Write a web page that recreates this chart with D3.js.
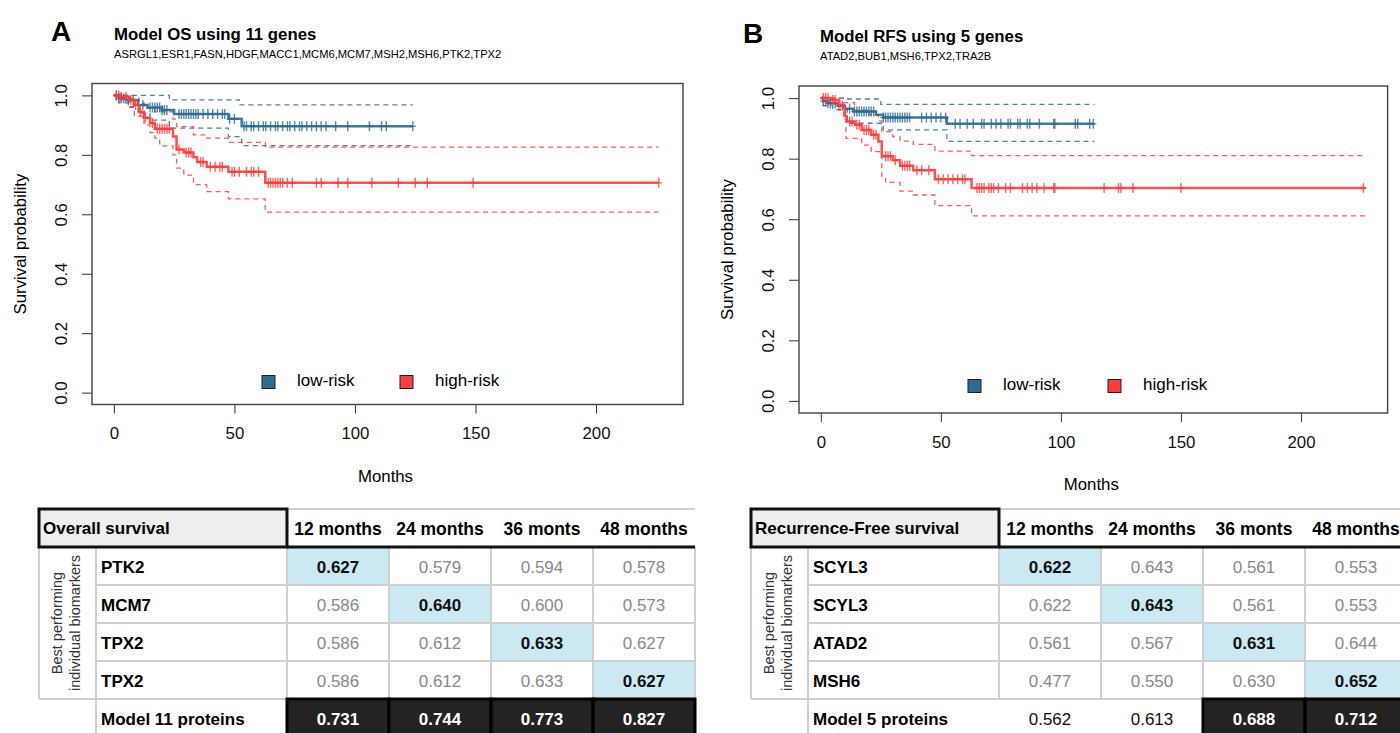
<!DOCTYPE html>
<html><head><meta charset="utf-8">
<script src="https://cdn.jsdelivr.net/npm/d3@7"></script>
<style>body{margin:0;background:#fff;} svg{display:block;font-family:"Liberation Sans",Arial,Helvetica,sans-serif;}</style>
</head><body>
<svg id="chart" width="1400" height="733"></svg>
<script>
// ---------------- DATA ----------------
const xTicks = [0, 50, 100, 150, 200];
const yTicks = [0, 0.2, 0.4, 0.6, 0.8, 1.0];
const legendLabels = ["low-risk", "high-risk"];
const xLabel = "Months";
const yLabel = "Survival probability";

// Panel A: overall survival
const osLetter = "A";
const osTitle = "Model OS using 11 genes";
const osGenesList = "ASRGL1,ESR1,FASN,HDGF,MACC1,MCM6,MCM7,MSH2,MSH6,PTK2,TPX2";
const osLowT = [0, 2, 5, 10, 14, 20, 25, 47.5, 53];
const osLowS = [1.0, 0.99, 0.984, 0.968, 0.959, 0.951, 0.937, 0.921, 0.896];
const osLowEnd = 124;
const osLowUpT = [0, 23, 52];
const osLowUpS = [1.0, 0.985, 0.968];
const osLowLoT = [0, 2, 6, 10, 15, 23, 47.5, 53];
const osLowLoS = [1.0, 0.975, 0.962, 0.94, 0.917, 0.89, 0.861, 0.831];
const osLowCens = [1, 2, 3, 4, 6, 8, 12, 15, 16, 17, 18, 19, 20, 21, 22, 27, 28, 29, 30, 31, 32, 33, 34, 35, 37, 39, 41, 43, 45, 46, 48, 50, 54, 55, 57, 58, 60, 62, 63, 65, 67, 68, 70, 72, 73, 75, 77, 78, 80, 82, 84, 86, 88, 92, 97, 106, 111, 113, 124];

const osHighT = [0, 3, 6.5, 8.5, 10.5, 12.5, 15, 17, 24.5, 26, 29, 33, 34.5, 38.5, 47.5, 62.8];
const osHighS = [1.0, 0.995, 0.985, 0.968, 0.945, 0.925, 0.907, 0.888, 0.862, 0.818, 0.808, 0.792, 0.776, 0.76, 0.743, 0.706];
const osHighEnd = 226;
const osHighUpT = [0, 6.5, 10.5, 12.5, 17, 24.5, 26, 33, 38.5, 47.5, 62.8];
const osHighUpS = [1.0, 0.99, 0.975, 0.957, 0.945, 0.92, 0.895, 0.867, 0.856, 0.842, 0.826];
const osHighLoT = [0, 3, 6.5, 8.5, 12.5, 15, 17, 19, 24.5, 26, 29, 33, 38.5, 47.5, 62.8];
const osHighLoS = [1.0, 0.985, 0.96, 0.93, 0.9, 0.875, 0.856, 0.83, 0.8, 0.755, 0.732, 0.70, 0.676, 0.652, 0.607];
const osHighCens = [1, 2, 3, 5, 7, 9, 11, 13, 16, 18, 19, 20, 21, 22, 23, 27, 30, 31, 32, 36, 37, 40, 42, 44, 45, 49, 50, 52, 55, 57, 58, 60, 64, 65, 66, 67, 68, 69, 70, 72, 74, 84, 86, 93, 97, 107, 118, 125, 130, 149, 226];

// Panel B: recurrence-free survival
const rfsLetter = "B";
const rfsTitle = "Model RFS using 5 genes";
const rfsGenesList = "ATAD2,BUB1,MSH6,TPX2,TRA2B";
const rfsLowT = [0, 1, 3, 7, 10, 13.5, 23, 26, 52.5];
const rfsLowS = [1.0, 0.99, 0.983, 0.975, 0.965, 0.956, 0.945, 0.936, 0.915];
const rfsLowEnd = 114;
const rfsLowUpT = [0, 10, 25];
const rfsLowUpS = [1.0, 0.997, 0.979];
const rfsLowLoT = [0, 1, 5, 11, 26, 52.5];
const rfsLowLoS = [1.0, 0.975, 0.962, 0.917, 0.895, 0.857];
const rfsLowCens = [1, 2, 3, 4, 6, 9, 12, 14, 15, 16, 17, 18, 19, 20, 21, 22, 26, 27, 28, 29, 30, 31, 32, 33, 34, 35, 36, 37, 42, 44, 46, 48, 50, 52, 56, 58, 61, 63.5, 67, 68, 71, 73, 75, 78, 79, 82, 83, 86, 87, 91, 97, 97.5, 106, 107, 112, 113.5];

const rfsHighT = [0, 4, 7.4, 9.5, 10.1, 10.8, 14.3, 17, 21, 24, 25.4, 30, 33, 38.5, 47.5, 62.8];
const rfsHighS = [1.0, 0.994, 0.978, 0.967, 0.94, 0.923, 0.912, 0.895, 0.879, 0.857, 0.808, 0.795, 0.777, 0.762, 0.732, 0.703];
const rfsHighEnd = 227;
const rfsHighUpT = [0, 9.5, 14, 20, 24, 25.4, 30, 33, 38.5, 47.5, 62.8];
const rfsHighUpS = [1.0, 0.985, 0.96, 0.945, 0.925, 0.889, 0.872, 0.858, 0.847, 0.825, 0.81];
const rfsHighLoT = [0, 4, 7.4, 9.5, 10.5, 17, 21, 25.4, 27, 33, 38.5, 47.5, 62.8];
const rfsHighLoS = [1.0, 0.985, 0.96, 0.93, 0.867, 0.845, 0.823, 0.735, 0.722, 0.693, 0.68, 0.645, 0.611];
const rfsHighCens = [1, 2, 3, 5, 6, 8, 12, 13, 15, 16, 18, 19, 20, 22, 23, 27, 28, 29, 31, 34, 35, 36, 37, 40, 42, 45, 49, 51, 53, 55, 57, 59, 60, 65, 66, 67, 68, 70, 71, 72, 74, 77, 79, 84, 86, 88, 90, 93, 97, 97.5, 118, 124, 125, 130, 150, 226];

// Tables
const tableHeaders = ["12 months", "24 months", "36 monts", "48 months"];
const sideLabel = ["Best performing", "individual biomarkers"];
const osTableLabel = "Overall survival";
const osGenes = ["PTK2", "MCM7", "TPX2", "TPX2"];
const osValues = [
  [0.627, 0.579, 0.594, 0.578],
  [0.586, 0.640, 0.600, 0.573],
  [0.586, 0.612, 0.633, 0.627],
  [0.586, 0.612, 0.633, 0.627]
];
const osModelLabel = "Model 11 proteins";
const osModel = [0.731, 0.744, 0.773, 0.827];

const rfsTableLabel = "Recurrence-Free survival";
const rfsGenes = ["SCYL3", "SCYL3", "ATAD2", "MSH6"];
const rfsValues = [
  [0.622, 0.643, 0.561, 0.553],
  [0.622, 0.643, 0.561, 0.553],
  [0.561, 0.567, 0.631, 0.644],
  [0.477, 0.550, 0.630, 0.652]
];
const rfsModelLabel = "Model 5 proteins";
const rfsModel = [0.562, 0.613, 0.688, 0.712];

// ---------------- DRAWING ----------------
const BLUE = "#2b6d90", RED = "#ff3d3d";
const svg = d3.select("#chart");

function stepVal(T, S, t) {
  let v = S[0];
  for (let i = 0; i < T.length; i++) if (T[i] <= t) v = S[i];
  return v;
}

function drawPanel(cfg) {
  const g = svg.append("g");
  const x = d3.scaleLinear().domain([-9.08, 236.08]).range([cfg.left, cfg.right]);
  const y = d3.scaleLinear().domain([-0.04, 1.04]).range([cfg.bottom, cfg.top]);

  g.append("text").attr("x", cfg.letterX).attr("y", cfg.top - 43).attr("font-size", 28).attr("font-weight", "bold").text(cfg.letter);
  g.append("text").attr("x", cfg.titleX).attr("y", cfg.top - 44).attr("font-size", 16.8).attr("font-weight", "bold").text(cfg.title);
  g.append("text").attr("x", cfg.titleX).attr("y", cfg.top - 26).attr("font-size", 11.2).text(cfg.genes);

  // axes
  const xa = g.append("g").attr("transform", `translate(0,${cfg.bottom})`)
    .call(d3.axisBottom(x).tickValues(xTicks).tickSize(9).tickPadding(14).tickFormat(d3.format("d")));
  const ya = g.append("g").attr("transform", `translate(${cfg.left},0)`)
    .call(d3.axisLeft(y).tickValues(yTicks).tickSize(10).tickFormat(d3.format(".1f")));
  [xa, ya].forEach(a => {
    a.select(".domain").remove();
    a.selectAll("line").attr("stroke", "#333");
    a.selectAll("text").attr("font-size", 16.8).attr("fill", "#111").attr("font-family", "Liberation Sans, Arial, sans-serif");
  });
  ya.selectAll(".tick text").attr("text-anchor", "middle").attr("x", 0).attr("dy", 0)
    .attr("transform", "translate(-29,0) rotate(-90)").attr("dominant-baseline", "middle");

  g.append("text").attr("x", (cfg.left + cfg.right) / 2 - 2).attr("y", cfg.bottom + 77).attr("text-anchor", "middle").attr("font-size", 16.8).text(xLabel);
  g.append("text").attr("transform", `translate(${cfg.left - 66},${(cfg.top + cfg.bottom) / 2}) rotate(-90)`).attr("text-anchor", "middle").attr("font-size", 16.8).text(yLabel);

  const line = d3.line().x(d => x(d[0])).y(d => y(d[1])).curve(d3.curveStepAfter);
  function curvePts(T, S, end) { const p = T.map((t, i) => [t, S[i]]); p.push([end, S[S.length - 1]]); return p; }

  const clip = g.append("g");
  cfg.series.forEach(s => {
    clip.append("path").attr("d", line(curvePts(s.upT, s.upS, s.end))).attr("fill", "none").attr("stroke", s.color).attr("stroke-width", 1.3).attr("stroke-dasharray", "5,4").attr("opacity", 0.85);
    clip.append("path").attr("d", line(curvePts(s.loT, s.loS, s.end))).attr("fill", "none").attr("stroke", s.color).attr("stroke-width", 1.3).attr("stroke-dasharray", "5,4").attr("opacity", 0.85);
  });
  cfg.series.forEach(s => {
    clip.append("path").attr("d", line(curvePts(s.T, s.S, s.end))).attr("fill", "none").attr("stroke", s.color).attr("stroke-width", 2.5).attr("opacity", 0.9);
    clip.selectAll(null).data(s.cens).enter().append("path")
      .attr("d", t => { const px = x(t), py = y(stepVal(s.T, s.S, t)); return `M${px},${py - 5}V${py + 5}M${px - 3},${py}H${px + 3}`; })
      .attr("stroke", s.color).attr("stroke-width", 1.4).attr("opacity", 0.8);
  });

  g.append("rect").attr("x", cfg.left).attr("y", cfg.top).attr("width", cfg.right - cfg.left).attr("height", cfg.bottom - cfg.top)
    .attr("fill", "none").attr("stroke", "#444").attr("stroke-width", 1.4);

  // legend
  cfg.series.forEach((s, i) => {
    const lx = cfg.legX[i];
    g.append("rect").attr("x", lx).attr("y", cfg.legY - 6.5).attr("width", 13).attr("height", 13).attr("fill", s.color).attr("stroke", "#222").attr("stroke-width", 1);
    g.append("text").attr("x", lx + 35).attr("y", cfg.legY).attr("dominant-baseline", "middle").attr("font-size", 17).text(legendLabels[i]);
  });
}

drawPanel({
  left: 92, right: 683, top: 83.5, bottom: 404.5, letterX: 51, titleX: 114, letter: osLetter, title: osTitle, genes: osGenesList,
  legX: [262, 400], legY: 382,
  series: [
    { color: BLUE, T: osLowT, S: osLowS, end: osLowEnd, upT: osLowUpT, upS: osLowUpS, loT: osLowLoT, loS: osLowLoS, cens: osLowCens },
    { color: RED, T: osHighT, S: osHighS, end: osHighEnd, upT: osHighUpT, upS: osHighUpS, loT: osHighLoT, loS: osHighLoS, cens: osHighCens }
  ]
});
drawPanel({
  left: 799, right: 1387.6, top: 86, bottom: 413, letterX: 743, titleX: 820, letter: rfsLetter, title: rfsTitle, genes: rfsGenesList,
  legX: [968, 1108], legY: 386,
  series: [
    { color: BLUE, T: rfsLowT, S: rfsLowS, end: rfsLowEnd, upT: rfsLowUpT, upS: rfsLowUpS, loT: rfsLowLoT, loS: rfsLowLoS, cens: rfsLowCens },
    { color: RED, T: rfsHighT, S: rfsHighS, end: rfsHighEnd, upT: rfsHighUpT, upS: rfsHighUpS, loT: rfsHighLoT, loS: rfsHighLoS, cens: rfsHighCens }
  ]
});

function drawTable(x0, label, genes, values, modelLabel, model) {
  const g = svg.append("g");
  const sideW = 57, nameW = 191, colW = 102, top = 509, hH = 38, rH = 38;
  const tdy = 3;
  const c0 = x0 + sideW + nameW;
  const colX = d3.scaleLinear().domain([0, 1]).range([c0, c0 + colW]);
  const rowY = i => top + hH + i * rH;
  const right = colX(tableHeaders.length);
  const nRows = genes.length;
  const fmt = d3.format(".3f");

  // highlight best per column (diagonal)
  values.forEach((row, i) => row.forEach((v, j) => {
    if (i === j) g.append("rect").attr("x", colX(j)).attr("y", rowY(i)).attr("width", colW).attr("height", rH).attr("fill", "#cce9f3");
  }));
  // grid
  const grid = "#cfcfcf";
  g.append("line").attr("x1", x0).attr("x2", right).attr("y1", top).attr("y2", top).attr("stroke", grid).attr("stroke-width", 2);
  for (let i = 1; i < nRows; i++) g.append("line").attr("x1", x0 + sideW).attr("x2", right).attr("y1", rowY(i)).attr("y2", rowY(i)).attr("stroke", grid).attr("stroke-width", 2);
  g.append("line").attr("x1", x0).attr("x2", right).attr("y1", rowY(nRows)).attr("y2", rowY(nRows)).attr("stroke", grid).attr("stroke-width", 2);
  g.append("line").attr("x1", x0).attr("x2", x0).attr("y1", rowY(0)).attr("y2", rowY(nRows)).attr("stroke", grid).attr("stroke-width", 2);
  g.append("line").attr("x1", x0 + sideW).attr("x2", x0 + sideW).attr("y1", rowY(0)).attr("y2", 740).attr("stroke", grid).attr("stroke-width", 2);
  for (let j = 0; j <= tableHeaders.length; j++) g.append("line").attr("x1", colX(j)).attr("x2", colX(j)).attr("y1", rowY(0)).attr("y2", rowY(nRows)).attr("stroke", grid).attr("stroke-width", 2);

  // header
  g.append("rect").attr("x", x0).attr("y", top).attr("width", sideW + nameW).attr("height", hH).attr("fill", "#eeeeee").attr("stroke", "#111").attr("stroke-width", 3);
  g.append("line").attr("x1", c0).attr("x2", right).attr("y1", rowY(0)).attr("y2", rowY(0)).attr("stroke", "#111").attr("stroke-width", 3);
  g.append("text").attr("x", x0 + 4).attr("y", top + hH / 2 + 2).attr("dominant-baseline", "middle").attr("font-size", 17).attr("font-weight", "bold").text(label);
  tableHeaders.forEach((h, j) => g.append("text").attr("x", colX(j + 0.5)).attr("y", top + hH / 2 + 2).attr("text-anchor", "middle").attr("dominant-baseline", "middle").attr("font-size", 17.5).attr("font-weight", "bold").text(h));

  // side label
  const sy = (rowY(0) + rowY(nRows)) / 2;
  sideLabel.forEach((t, k) => g.append("text").attr("transform", `translate(${x0 + 23 + k * 18},${sy}) rotate(-90)`).attr("text-anchor", "middle").attr("font-size", 14.5).attr("fill", "#333").text(t));

  // rows
  genes.forEach((gn, i) => {
    g.append("text").attr("x", x0 + sideW + 5).attr("y", rowY(i) + rH / 2 + tdy).attr("dominant-baseline", "middle").attr("font-size", 17).attr("font-weight", "bold").text(gn);
    values[i].forEach((v, j) => g.append("text").attr("x", colX(j + 0.5)).attr("y", rowY(i) + rH / 2 + tdy).attr("text-anchor", "middle").attr("dominant-baseline", "middle")
      .attr("font-size", 17).attr("font-weight", i === j ? "bold" : "normal").attr("fill", i === j ? "#111" : "#8a8a8a").text(fmt(v)));
  });

  // model row
  const my = rowY(nRows);
  g.append("text").attr("x", x0 + sideW + 5).attr("y", my + rH / 2 + tdy).attr("dominant-baseline", "middle").attr("font-size", 17).attr("font-weight", "bold").text(modelLabel);
  model.forEach((v, j) => {
    const best = d3.max(values, r => r[j]);
    const dark = v > best;
    if (dark) g.append("rect").attr("x", colX(j)).attr("y", my).attr("width", colW).attr("height", rH + 4).attr("fill", "#232323").attr("stroke", "#000").attr("stroke-width", 3);
    g.append("text").attr("x", colX(j + 0.5)).attr("y", my + rH / 2 + tdy).attr("text-anchor", "middle").attr("dominant-baseline", "middle")
      .attr("font-size", 17).attr("font-weight", dark ? "bold" : "normal").attr("fill", dark ? "#fff" : "#111").text(fmt(v));
  });
}

drawTable(39, osTableLabel, osGenes, osValues, osModelLabel, osModel);
drawTable(751, rfsTableLabel, rfsGenes, rfsValues, rfsModelLabel, rfsModel);
</script>
</body></html>
